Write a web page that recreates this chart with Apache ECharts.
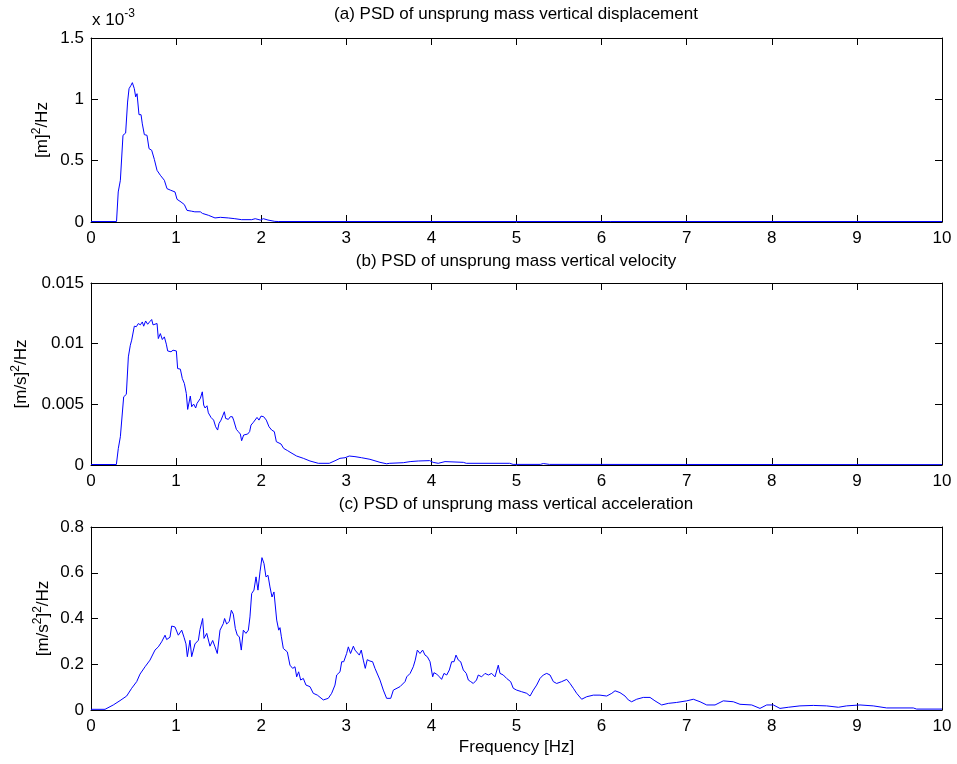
<!DOCTYPE html>
<html>
<head>
<meta charset="utf-8">
<title>PSD of unsprung mass response</title>
<script src="https://cdn.jsdelivr.net/npm/echarts@6/dist/echarts.min.js"></script>
<style>
  html, body { margin: 0; padding: 0; background: #fff; }
  #chart { width: 957px; height: 764px; }
</style>
</head>
<body>
<div id="chart"></div>
<script>
// ---- Data -------------------------------------------------------------
// (a) vertical displacement PSD, values in units of 1e-3 m^2/Hz
const dispFreq = [0, 0.30, 0.32, 0.345, 0.36, 0.376, 0.407, 0.43, 0.447, 0.47, 0.486, 0.509, 0.525, 0.541, 0.564, 0.588,
  0.603, 0.627, 0.658, 0.682, 0.713, 0.744, 0.776, 0.815, 0.862, 0.893, 0.932, 0.987, 1.011, 1.058, 1.097, 1.128,
  1.183, 1.22, 1.285, 1.31, 1.379, 1.457, 1.52, 1.613, 1.69, 1.77, 1.888, 1.93, 1.99, 2.025, 2.08, 2.16, 2.2, 10];
const dispPsd = [0.004, 0.004, 0.245, 0.34, 0.345, 0.707, 0.725, 0.978, 1.087, 1.114, 1.136, 1.087, 1.02, 1.046, 0.875, 0.875,
  0.80, 0.712, 0.707, 0.598, 0.585, 0.511, 0.421, 0.381, 0.34, 0.272, 0.26, 0.245, 0.185, 0.163, 0.142, 0.095,
  0.088, 0.083, 0.083, 0.07, 0.055, 0.033, 0.038, 0.033, 0.027, 0.019, 0.019, 0.027, 0.016, 0.027, 0.016, 0.005, 0.004, 0.004];

// (b) vertical velocity PSD, (m/s)^2/Hz
const velFreq = [0, 0.298, 0.321, 0.345, 0.368, 0.384, 0.415, 0.439, 0.462, 0.478, 0.509, 0.533, 0.556, 0.58, 0.603, 0.619,
  0.642, 0.666, 0.689, 0.713, 0.729, 0.752, 0.776, 0.791, 0.815, 0.838, 0.862, 0.885, 0.901, 0.924, 0.94, 0.964,
  1.003, 1.018, 1.05, 1.073, 1.097, 1.12, 1.136, 1.152, 1.167, 1.183, 1.206, 1.23, 1.246, 1.269, 1.285, 1.308,
  1.324, 1.34, 1.363, 1.379, 1.41, 1.441, 1.465, 1.488, 1.504, 1.528, 1.551, 1.567, 1.582, 1.614, 1.637, 1.661,
  1.676, 1.708, 1.731, 1.755, 1.77, 1.794, 1.817, 1.841, 1.864, 1.88, 1.904, 1.927, 1.951, 1.974, 1.998, 2.029,
  2.06, 2.092, 2.123, 2.154, 2.178, 2.201, 2.233, 2.264, 2.311, 2.35, 2.416, 2.495, 2.573, 2.671, 2.8, 2.867,
  2.926, 2.985, 3.035, 3.102, 3.18, 3.278, 3.396, 3.474, 3.51, 3.67, 3.75, 3.846, 3.98, 4.02, 4.08, 4.16,
  4.375, 4.41, 4.92, 4.96, 5.28, 5.315, 5.386, 10];
const velPsd = [0.00004, 0.00004, 0.00137, 0.00233, 0.00244, 0.00562, 0.00582, 0.00891, 0.00987, 0.01029, 0.01144, 0.0114, 0.01166, 0.01155, 0.01179, 0.01144,
  0.01187, 0.0116, 0.0118, 0.01199, 0.01155, 0.0117, 0.01166, 0.01042, 0.01083, 0.01034, 0.01056, 0.00996, 0.0094, 0.00946, 0.00933, 0.00946,
  0.0094, 0.00795, 0.0079, 0.00713, 0.00672, 0.0059, 0.00458, 0.00454, 0.00568, 0.0048, 0.00502, 0.0047, 0.00508, 0.00513, 0.00549, 0.00603,
  0.00494, 0.0047, 0.00488, 0.0043, 0.00392, 0.0037, 0.00315, 0.00288, 0.00342, 0.0037, 0.00411, 0.00439, 0.00384, 0.00376, 0.00398, 0.00398,
  0.0037, 0.00294, 0.00275, 0.00255, 0.002, 0.00247, 0.0026, 0.00255, 0.00275, 0.00329, 0.00348, 0.00337, 0.00392, 0.0037, 0.00403, 0.00398,
  0.0037, 0.00315, 0.00288, 0.00275, 0.00192, 0.00178, 0.00173, 0.00137, 0.00118, 0.00101, 0.00074, 0.00055, 0.00033, 0.00014, 0.00014, 0.00035,
  0.00055, 0.0006, 0.00074, 0.00069, 0.0006, 0.00047, 0.00022, 0.0001, 0.00014, 0.00019, 0.00028, 0.00033, 0.00036, 0.00022, 0.00014, 0.00028,
  0.00022, 0.00014, 0.00014, 0.00005, 0.00005, 0.00012, 0.00005, 0.00003];

// (c) vertical acceleration PSD, (m/s^2)^2/Hz
const accFreq = [0, 0.165, 0.262, 0.341, 0.419, 0.478, 0.537, 0.576, 0.635, 0.693, 0.752, 0.791, 0.83, 0.87, 0.889, 0.928,
  0.948, 0.987, 1.007, 1.026, 1.066, 1.093, 1.116, 1.132, 1.163, 1.183, 1.222, 1.262, 1.281, 1.312, 1.328, 1.36,
  1.398, 1.43, 1.457, 1.484, 1.516, 1.555, 1.57, 1.594, 1.625, 1.649, 1.672, 1.696, 1.719, 1.743, 1.766, 1.79,
  1.821, 1.849, 1.868, 1.888, 1.915, 1.939, 1.962, 1.986, 2.009, 2.033, 2.056, 2.08, 2.103, 2.127, 2.15, 2.182,
  2.206, 2.221, 2.237, 2.26, 2.307, 2.338, 2.37, 2.397, 2.417, 2.44, 2.464, 2.495, 2.526, 2.573, 2.612, 2.66,
  2.73, 2.788, 2.828, 2.867, 2.887, 2.926, 2.946, 2.97, 3.004, 3.024, 3.05, 3.083, 3.102, 3.121, 3.153, 3.176,
  3.2, 3.223, 3.246, 3.278, 3.309, 3.337, 3.36, 3.396, 3.435, 3.474, 3.522, 3.553, 3.631, 3.69, 3.71, 3.75,
  3.787, 3.81, 3.835, 3.866, 3.897, 3.925, 3.952, 3.984, 4.015, 4.03, 4.062, 4.094, 4.12, 4.148, 4.18, 4.211,
  4.238, 4.266, 4.289, 4.317, 4.344, 4.375, 4.41, 4.434, 4.462, 4.492, 4.53, 4.551, 4.59, 4.63, 4.67, 4.708,
  4.747, 4.786, 4.806, 4.845, 4.884, 4.931, 4.962, 5.002, 5.06, 5.12, 5.159, 5.198, 5.237, 5.276, 5.315, 5.355,
  5.394, 5.433, 5.472, 5.531, 5.59, 5.629, 5.668, 5.707, 5.766, 5.825, 5.903, 5.981, 6.06, 6.12, 6.158, 6.216,
  6.275, 6.314, 6.353, 6.412, 6.49, 6.569, 6.627, 6.706, 6.784, 6.882, 7.0, 7.078, 7.157, 7.235, 7.333, 7.43,
  7.548, 7.626, 7.764, 7.861, 7.94, 8.018, 8.096, 8.194, 8.331, 8.488, 8.644, 8.782, 8.879, 9.036, 9.192, 9.35,
  9.663, 9.702, 10];
const accPsd = [0.003, 0.003, 0.022, 0.041, 0.061, 0.095, 0.124, 0.157, 0.189, 0.218, 0.262, 0.276, 0.298, 0.327, 0.308, 0.318,
  0.367, 0.363, 0.371, 0.327, 0.349, 0.318, 0.289, 0.233, 0.305, 0.233, 0.289, 0.305, 0.352, 0.40, 0.313, 0.335,
  0.279, 0.304, 0.276, 0.247, 0.349, 0.378, 0.40, 0.376, 0.387, 0.436, 0.419, 0.356, 0.327, 0.32, 0.262, 0.349,
  0.335, 0.349, 0.407, 0.509, 0.524, 0.582, 0.524, 0.604, 0.666, 0.64, 0.582, 0.589, 0.538, 0.494, 0.516, 0.393,
  0.349, 0.36, 0.32, 0.269, 0.254, 0.196, 0.182, 0.189, 0.145, 0.167, 0.131, 0.138, 0.109, 0.102, 0.073, 0.065,
  0.044, 0.051, 0.073, 0.109, 0.153, 0.167, 0.211, 0.211, 0.247, 0.276, 0.247, 0.279, 0.262, 0.265, 0.24, 0.262,
  0.218, 0.182, 0.22, 0.214, 0.211, 0.182, 0.182, 0.131, 0.087, 0.051, 0.051, 0.087, 0.102, 0.124, 0.145, 0.16,
  0.189, 0.218, 0.262, 0.247, 0.262, 0.24, 0.233, 0.211, 0.145, 0.163, 0.157, 0.145, 0.134, 0.16, 0.153, 0.175,
  0.211, 0.211, 0.24, 0.218, 0.211, 0.175, 0.16, 0.131, 0.124, 0.116, 0.131, 0.153, 0.145, 0.16, 0.153, 0.16,
  0.145, 0.196, 0.16, 0.153, 0.138, 0.124, 0.095, 0.087, 0.080, 0.073, 0.061, 0.087, 0.109, 0.138, 0.153, 0.16,
  0.153, 0.124, 0.116, 0.124, 0.134, 0.116, 0.095, 0.073, 0.047, 0.058, 0.065, 0.065, 0.061, 0.073, 0.084, 0.076,
  0.061, 0.044, 0.036, 0.047, 0.055, 0.055, 0.04, 0.022, 0.029, 0.033, 0.04, 0.047, 0.036, 0.022, 0.022, 0.04,
  0.036, 0.025, 0.022, 0.007, 0.022, 0.022, 0.007, 0.012, 0.018, 0.02, 0.018, 0.012, 0.018, 0.022, 0.018, 0.009,
  0.009, 0.004, 0.004];

// Axis tick values
const freqTicks = [0, 10, 1];           // min, max, step (Hz)
const dispTicks = [0, 1.5, 0.5];        // x 1e-3
const velTicks = [0, 0.015, 0.005];
const accTicks = [0, 0.8, 0.2];

const panelTitles = [
  '(a) PSD of unsprung mass vertical displacement',
  '(b) PSD of unsprung mass vertical velocity',
  '(c) PSD of unsprung mass vertical acceleration'
];

// ---- Chart ------------------------------------------------------------
const zip = (xs, ys) => xs.map((x, i) => [x, ys[i]]);
const FONT = 'Liberation Sans, Arial, sans-serif';
const FS = 17;
const black = '#000';

const grids = [
  { left: 91, top: 38, width: 851, height: 184 },
  { left: 91, top: 283, width: 851, height: 182 },
  { left: 91, top: 527, width: 851, height: 183 }
];

const tickCommon = { show: true, inside: true, length: 7, lineStyle: { color: black, width: 1 } };
const lineCommon = { show: true, onZero: false, lineStyle: { color: black, width: 1 } };

const xAxes = [];
const yAxes = [];
const yTicks = [dispTicks, velTicks, accTicks];
const yNames = [
  '[m]{sup|2}/Hz',
  '[m/s]{sup|2}/Hz',
  '[m/s{sup|2}]{sup|2}/Hz'
];
const yNameGaps = [38, 59, 37];
const richName = {
  sup: { fontSize: 12, fontFamily: FONT, color: black, verticalAlign: 'top', lineHeight: 12 }
};

grids.forEach((g, i) => {
  // bottom x axis with labels
  xAxes.push({
    type: 'value', gridIndex: i, position: 'bottom',
    min: freqTicks[0], max: freqTicks[1], interval: freqTicks[2],
    axisLine: lineCommon, axisTick: tickCommon, splitLine: { show: false },
    axisLabel: { color: black, fontSize: FS, fontFamily: FONT, margin: 8 },
    name: i === 2 ? 'Frequency [Hz]' : '',
    nameLocation: 'middle', nameGap: 29, nameMoveOverlap: false,
    nameTextStyle: { color: black, fontSize: FS, fontFamily: FONT }
  });
  // top x axis, ticks only
  xAxes.push({
    type: 'value', gridIndex: i, position: 'top',
    min: freqTicks[0], max: freqTicks[1], interval: freqTicks[2],
    axisLine: lineCommon, axisTick: tickCommon, splitLine: { show: false },
    axisLabel: { show: false }
  });
  const t = yTicks[i];
  yAxes.push({
    type: 'value', gridIndex: i, position: 'left',
    min: t[0], max: t[1], interval: t[2],
    axisLine: lineCommon, axisTick: tickCommon, splitLine: { show: false },
    axisLabel: { color: black, fontSize: FS, fontFamily: FONT, margin: 7 },
    name: yNames[i], nameLocation: 'middle', nameRotate: 90, nameGap: yNameGaps[i],
    nameMoveOverlap: false,
    nameTextStyle: { color: black, fontSize: FS, fontFamily: FONT, lineHeight: 22, rich: richName }
  });
  yAxes.push({
    type: 'value', gridIndex: i, position: 'right',
    min: t[0], max: t[1], interval: t[2],
    axisLine: lineCommon, axisTick: tickCommon, splitLine: { show: false },
    axisLabel: { show: false }
  });
});

const seriesData = [zip(dispFreq, dispPsd), zip(velFreq, velPsd), zip(accFreq, accPsd)];
const series = seriesData.map((d, i) => ({
  type: 'line', xAxisIndex: i * 2, yAxisIndex: i * 2, data: d,
  showSymbol: false, symbol: 'none', silent: true, animation: false,
  lineStyle: { color: '#0000ff', width: 1 }
}));

const titleTops = [6, 253, 496];
const titles = panelTitles.map((txt, i) => ({
  text: txt, left: 516, top: titleTops[i], textAlign: 'center', padding: 0,
  textStyle: { color: black, fontSize: FS, fontWeight: 'normal', fontFamily: FONT }
}));
titles.push({
  text: 'x 10{sup|-3}', left: 92, top: 8, padding: 0,
  textStyle: {
    color: black, fontSize: FS, fontWeight: 'normal', fontFamily: FONT, lineHeight: 24,
    rich: { sup: { fontSize: 12, fontFamily: FONT, color: black, verticalAlign: 'top', lineHeight: 12 } }
  }
});

const chart = echarts.init(document.getElementById('chart'), null, { renderer: 'canvas' });
chart.setOption({
  animation: false,
  backgroundColor: '#fff',
  title: titles,
  grid: grids.map(g => Object.assign({ containLabel: false }, g)),
  xAxis: xAxes,
  yAxis: yAxes,
  series: series
});
</script>
</body>
</html>
